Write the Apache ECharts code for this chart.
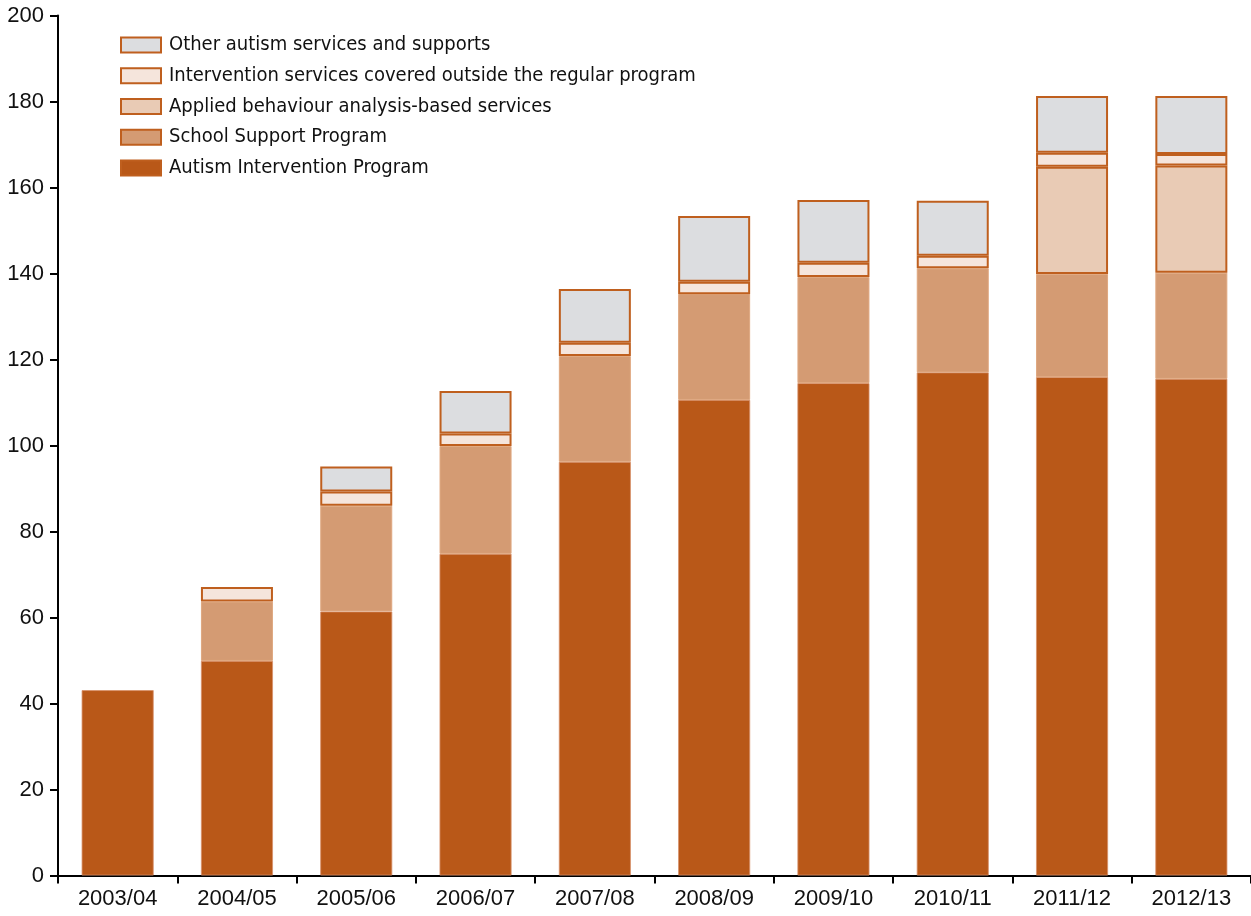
<!DOCTYPE html>
<html>
<head>
<meta charset="utf-8">
<script src="https://cdn.jsdelivr.net/npm/echarts@6/dist/echarts.min.js"></script>
<style>html,body{margin:0;padding:0;background:#fff;}#c{width:1251px;height:916px;}</style>
</head>
<body>
<div id="c"></div>
<script>
const categories = ['2003/04','2004/05','2005/06','2006/07','2007/08','2008/09','2009/10','2010/11','2011/12','2012/13'];
const autismIntervention = [43.1, 49.9, 61.4, 74.8, 96.2, 110.6, 114.5, 117.0, 115.9, 115.5];
const schoolSupport      = [0, 13.8, 24.6, 25.1, 24.6, 24.6, 24.7, 24.2, 24.0, 24.7];
const appliedBehaviour   = [0, 0, 0, 0, 0, 0, 0, 0, 24.9, 24.9];
const interventionOutside= [0, 3.4, 3.3, 2.9, 3.1, 2.9, 3.3, 2.9, 3.3, 2.7];
const otherServices      = [0, 0, 5.8, 9.9, 12.5, 15.3, 14.6, 12.8, 13.2, 13.5];
const yTicks = [0,20,40,60,80,100,120,140,160,180,200];

const names = ['Autism Intervention Program','School Support Program','Applied behaviour analysis-based services','Intervention services covered outside the regular program','Other autism services and supports'];
const colors = ['#b95818','#d49b73','#e9cbb5','#f5e5dc','#dcdde0'];
const datas = [autismIntervention, schoolSupport, appliedBehaviour, interventionOutside, otherServices];
const border = '#bf5f1e';
const FONT = '"DejaVu Sans Condensed", "Liberation Sans", Arial, sans-serif';
const AXFONT = '"Liberation Sans", Arial, sans-serif';

const series = names.map((n, i) => ({
  name: n,
  type: 'bar',
  stack: 'total',
  barWidth: 72,
  data: datas[i].map(v => v === 0 ? null : v),
  itemStyle: {
    color: colors[i],
    borderColor: i === 0 ? '#d8906a' : (i === 1 ? '#dfa77f' : border),
    borderWidth: i === 0 ? 0.8 : (i === 1 ? 1 : 2)
  },
  emphasis: { disabled: true }
}));

const chart = echarts.init(document.getElementById('c'), null, {renderer: 'canvas'});
chart.setOption({
  animation: false,
  backgroundColor: '#fff',
  grid: { left: 58, right: 0, top: 15.5, bottom: 40.5, containLabel: false },
  legend: {
    orient: 'vertical',
    left: 115,
    top: 30,
    icon: 'rect',
    itemWidth: 40,
    itemHeight: 15,
    itemGap: 10.75,
    data: names.slice().reverse(),
    itemStyle: { borderColor: border, borderWidth: 2 },
    textStyle: { fontFamily: FONT, fontSize: 20, color: '#111', lineHeight: 20, padding: [0,0,0,3] },
    selectedMode: false
  },
  xAxis: {
    type: 'category',
    data: categories,
    axisLine: { lineStyle: { color: '#000', width: 2 } },
    axisTick: { show: true, length: 8, interval: 0, lineStyle: { color: '#000', width: 2 } },
    axisLabel: { fontFamily: AXFONT, fontSize: 22, color: '#111', margin: 12 }
  },
  yAxis: {
    type: 'value',
    min: 0, max: 200, interval: 20,
    axisLine: { show: true, lineStyle: { color: '#000', width: 2 } },
    axisTick: { show: true, length: 8, lineStyle: { color: '#000', width: 2 } },
    splitLine: { show: false },
    axisLabel: { fontFamily: AXFONT, fontSize: 22, color: '#111', margin: 14,
      formatter: v => yTicks.includes(v) ? String(v) : '' }
  },
  series: series
});
</script>
</body>
</html>
